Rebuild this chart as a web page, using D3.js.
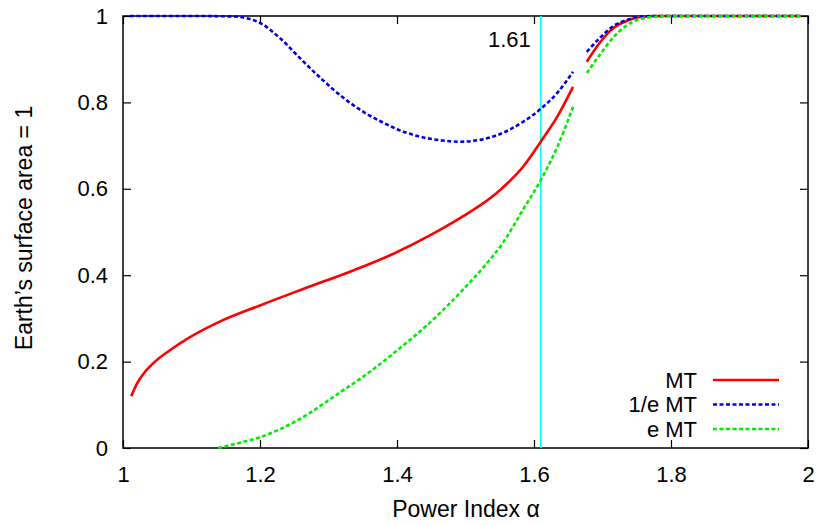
<!DOCTYPE html>
<html>
<head>
<meta charset="utf-8">
<script src="https://cdn.jsdelivr.net/npm/d3@7"></script>
<style>
  html, body { margin: 0; padding: 0; background: #fff; }
  svg { display: block; font-family: "Liberation Sans", Arial, Helvetica, sans-serif; }
</style>
</head>
<body>
<svg id="chart" width="818" height="525"></svg>
<script>
// ---- data ----
const xTickValues = [1, 1.2, 1.4, 1.6, 1.8, 2];
const xTickLabels = ["1", "1.2", "1.4", "1.6", "1.8", "2"];
const yTickValues = [0, 0.2, 0.4, 0.6, 0.8, 1];
const yTickLabels = ["0", "0.2", "0.4", "0.6", "0.8", "1"];

const seriesNames = ["MT", "1/e MT", "e MT"];

// MT (solid red); null marks the gap in the curve
const mtAlpha = [1.012, 1.02, 1.03, 1.044, 1.07, 1.093, 1.142, 1.2, 1.263, 1.336, 1.394, 1.448, 1.496, 1.546, 1.584, 1.612, 1.634, 1.657, 1.667, 1.677, 1.696, 1.716, 1.736, 1.755, 1.78, 1.8, 1.9, 1.99];
const mtValue = [0.12, 0.148, 0.172, 0.196, 0.228, 0.252, 0.293, 0.33, 0.368, 0.411, 0.449, 0.492, 0.536, 0.591, 0.651, 0.714, 0.767, 0.836, null, 0.894, 0.938, 0.972, 0.989, 0.998, 1, 1, 1, 1];

// 1/e MT (dashed blue)
const invEAlpha = [1.01, 1.1, 1.16, 1.18, 1.2, 1.229, 1.258, 1.288, 1.328, 1.35, 1.375, 1.4, 1.43, 1.46, 1.492, 1.52, 1.546, 1.584, 1.612, 1.634, 1.657, 1.667, 1.677, 1.696, 1.716, 1.736, 1.755, 1.78, 1.9, 1.99];
const invEValue = [1, 1, 0.999, 0.995, 0.984, 0.949, 0.903, 0.857, 0.803, 0.779, 0.757, 0.738, 0.722, 0.713, 0.709, 0.713, 0.724, 0.755, 0.788, 0.822, 0.871, null, 0.917, 0.949, 0.977, 0.991, 0.999, 1, 1, 1];

// e MT (dashed green)
const eAlpha = [1.139, 1.17, 1.2, 1.258, 1.317, 1.346, 1.375, 1.394, 1.458, 1.496, 1.526, 1.555, 1.584, 1.612, 1.634, 1.657, 1.667, 1.677, 1.696, 1.716, 1.736, 1.755, 1.78, 1.8, 1.9, 1.99];
const eValue = [0, 0.012, 0.025, 0.067, 0.129, 0.16, 0.194, 0.218, 0.305, 0.366, 0.418, 0.476, 0.552, 0.626, 0.697, 0.79, null, 0.868, 0.91, 0.951, 0.979, 0.993, 0.999, 1, 1, 1];

const markerAlpha = 1.61;
const markerLabel = "1.61";
const xTitle = "Power Index α";
const yTitle = "Earth’s surface area = 1";

// ---- drawing ----
const svg = d3.select("#chart");
const pLeft = 123, pRight = 808, pTop = 16, pBottom = 448;

const x = d3.scaleLinear().domain([1, 2]).range([pLeft, pRight]);
const y = d3.scaleLinear().domain([0, 1]).range([pBottom, pTop]);

const tickFont = "22px";

// bottom axis (inward ticks)
const gx = svg.append("g").attr("transform", `translate(0,${pBottom})`)
  .call(d3.axisBottom(x).tickValues(xTickValues)
    .tickFormat((d, i) => xTickLabels[i]).tickSize(-8).tickPadding(18));
// left axis
const gy = svg.append("g").attr("transform", `translate(${pLeft},0)`)
  .call(d3.axisLeft(y).tickValues(yTickValues)
    .tickFormat((d, i) => yTickLabels[i]).tickSize(-8).tickPadding(15));
// mirrored ticks
const gt = svg.append("g").attr("transform", `translate(0,${pTop})`)
  .call(d3.axisTop(x).tickValues(xTickValues).tickFormat("").tickSize(-8));
const gr = svg.append("g").attr("transform", `translate(${pRight},0)`)
  .call(d3.axisRight(y).tickValues(yTickValues).tickFormat("").tickSize(-8));

[gx, gy, gt, gr].forEach(g => {
  g.select(".domain").remove();
  g.selectAll("line").attr("stroke", "#000").attr("stroke-width", 1.2);
  g.selectAll("text").attr("fill", "#000").style("font-size", tickFont)
    .style("font-family", "'Liberation Sans', Arial, sans-serif");
});

// frame
svg.append("rect")
  .attr("x", pLeft).attr("y", pTop)
  .attr("width", pRight - pLeft).attr("height", pBottom - pTop)
  .attr("fill", "none").attr("stroke", "#000").attr("stroke-width", 1.5);

// marker line
svg.append("line")
  .attr("x1", x(markerAlpha)).attr("x2", x(markerAlpha))
  .attr("y1", y(1)).attr("y2", y(0))
  .attr("stroke", "#00ffff").attr("stroke-width", 1.6);
svg.append("text")
  .attr("x", x(markerAlpha) - 10).attr("y", 47)
  .attr("text-anchor", "end").style("font-size", tickFont)
  .text(markerLabel);

const makeData = (a, v) => a.map((d, i) => ({ a: d, v: v[i] }));
const line = d3.line()
  .defined(d => d.v !== null)
  .x(d => x(d.a)).y(d => y(d.v))
  .curve(d3.curveMonotoneX);

const series = [
  { name: seriesNames[0], data: makeData(mtAlpha, mtValue), color: "#ff0000", dash: null, width: 2.6 },
  { name: seriesNames[1], data: makeData(invEAlpha, invEValue), color: "#0000e6", dash: "4,2.5", width: 2.6 },
  { name: seriesNames[2], data: makeData(eAlpha, eValue), color: "#00ee00", dash: "4,2.5", width: 2.6 }
];

series.forEach(s => {
  svg.append("path")
    .datum(s.data)
    .attr("d", line)
    .attr("fill", "none")
    .attr("stroke", s.color)
    .attr("stroke-width", s.width)
    .attr("stroke-dasharray", s.dash);
});

// legend
const legendY = [380, 404.5, 429];
series.forEach((s, i) => {
  svg.append("text")
    .attr("x", 697).attr("y", legendY[i]).attr("dy", "0.35em")
    .attr("text-anchor", "end").style("font-size", tickFont)
    .text(s.name);
  svg.append("line")
    .attr("x1", 713).attr("x2", 779)
    .attr("y1", legendY[i]).attr("y2", legendY[i])
    .attr("stroke", s.color).attr("stroke-width", s.width)
    .attr("stroke-dasharray", s.dash);
});

// axis titles
svg.append("text")
  .attr("x", 466).attr("y", 517)
  .attr("text-anchor", "middle").style("font-size", "23px")
  .text(xTitle);
svg.append("text")
  .attr("transform", `translate(32,228) rotate(-90)`)
  .attr("text-anchor", "middle").style("font-size", "23px")
  .text(yTitle);
</script>
</body>
</html>
